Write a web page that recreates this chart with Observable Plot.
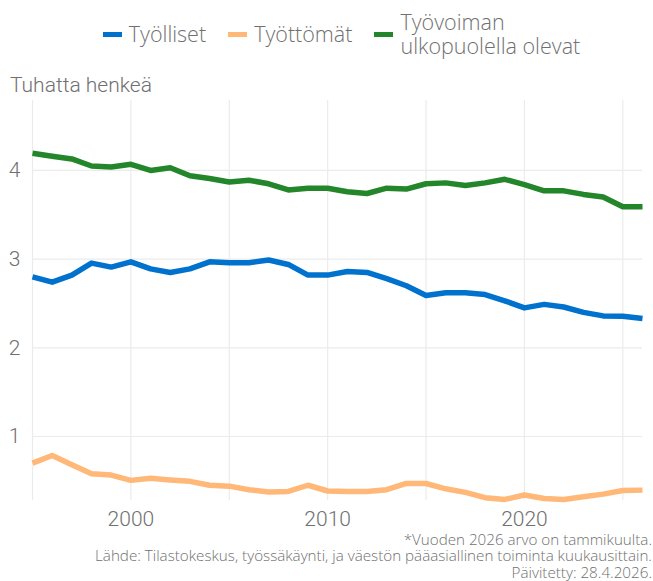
<!DOCTYPE html>
<html>
<head>
<meta charset="utf-8">
<script src="https://cdn.jsdelivr.net/npm/d3@7"></script>
<script src="https://cdn.jsdelivr.net/npm/@observablehq/plot@0.6"></script>
<style>
  html, body { margin: 0; padding: 0; background: #fff; }
  #wrap { position: relative; width: 653px; height: 581px; overflow: hidden; }
  #legend { position: absolute; left: 0; top: 0; width: 653px; height: 68px; display: flex; justify-content: center; align-items: center; font-family: "Open Sans", sans-serif; font-weight: 300; font-size: 21.5px; color: #707070; padding-left: 52px; box-sizing: border-box; }
  .item { display: flex; align-items: center; margin-right: 22px; }
  .sw { width: 19px; height: 5px; margin-right: 7px; }
  .lab { line-height: 24px; }
  #ytitle { position: absolute; left: 10px; top: 73px; font-family: Roboto, sans-serif; font-weight: 300; font-size: 21px; color: #707070; }
  #chart { position: absolute; left: 0; top: 95px; }
  #caption { position: absolute; right: 1px; top: 531px; text-align: right; font-family: "Open Sans", sans-serif; font-weight: 300; font-size: 15.2px; line-height: 16.3px; color: #707070; }
</style>
</head>
<body>
<div id="wrap">
  <div id="legend"></div>
  <div id="ytitle"></div>
  <div id="chart"></div>
  <div id="caption"></div>
</div>
<script>
const years = d3.range(1995, 2027);
const seriesNames = ["Työlliset", "Työttömät", "Työvoiman ulkopuolella olevat"];
const legendLabels = ["Työlliset", "Työttömät", "Työvoiman<br>ulkopuolella olevat"];
const seriesColors = ["#0072CE", "#FFB878", "#23862A"];

const tyolliset = [2.80, 2.74, 2.82, 2.955, 2.91, 2.97, 2.89, 2.85, 2.89, 2.97, 2.96, 2.96, 2.99, 2.94, 2.82, 2.82,
                   2.86, 2.85, 2.78, 2.70, 2.59, 2.62, 2.62, 2.60, 2.53, 2.45, 2.49, 2.46, 2.40, 2.36, 2.355, 2.33];
const tyottomat = [0.70, 0.785, 0.68, 0.58, 0.565, 0.505, 0.53, 0.51, 0.494, 0.45, 0.44, 0.40, 0.375, 0.38, 0.45, 0.385,
                   0.38, 0.38, 0.40, 0.47, 0.47, 0.41, 0.37, 0.31, 0.29, 0.34, 0.30, 0.29, 0.32, 0.35, 0.39, 0.395];
const ulkopuolella = [4.195, 4.16, 4.13, 4.05, 4.04, 4.07, 4.00, 4.03, 3.94, 3.91, 3.87, 3.89, 3.85, 3.78, 3.80, 3.80,
                      3.76, 3.74, 3.80, 3.79, 3.85, 3.86, 3.83, 3.86, 3.90, 3.84, 3.77, 3.77, 3.73, 3.70, 3.59, 3.59];

const yTicks = [1, 2, 3, 4];
const xTicks = [2000, 2010, 2020];
const xGrid = [1995, 2000, 2005, 2010, 2015, 2020, 2025];
const yTitle = "Tuhatta henkeä";
const captionLines = [
  "*Vuoden 2026 arvo on tammikuulta.",
  "Lähde: Tilastokeskus, työssäkäynti, ja väestön pääasiallinen toiminta kuukausittain.",
  "Päivitetty: 28.4.2026."
];

const values = [tyolliset, tyottomat, ulkopuolella];
const data = [];
seriesNames.forEach((s, i) => years.forEach((y, j) => data.push({ year: y, value: values[i][j], series: s })));

const leg = document.getElementById("legend");
seriesNames.forEach((s, i) => {
  const it = document.createElement("div");
  it.className = "item";
  it.innerHTML = `<div class="sw" style="background:${seriesColors[i]}"></div><div class="lab">${legendLabels[i]}</div>`;
  leg.appendChild(it);
});
document.getElementById("ytitle").textContent = yTitle;
document.getElementById("caption").innerHTML = captionLines.join("<br>");

const chart = Plot.plot({
  width: 653,
  height: 445,
  marginTop: 5,
  marginBottom: 40,
  marginLeft: 32,
  marginRight: 11,
  style: { fontFamily: "Roboto, sans-serif", fontWeight: 300, fontSize: "21px", color: "#707070", background: "transparent" },
  x: { domain: [1995, 2026], label: null },
  y: { domain: [0.278, 4.789], label: null },
  color: { domain: seriesNames, range: seriesColors },
  marks: [
    Plot.gridX(xGrid, { stroke: "#ebebeb", strokeOpacity: 1, strokeWidth: 1.2 }),
    Plot.gridY(yTicks, { stroke: "#ebebeb", strokeOpacity: 1, strokeWidth: 1.2 }),
    Plot.axisX(xTicks, { tickSize: 0, tickPadding: 11, tickFormat: d => String(d), fontSize: 21, fill: "#707070" }),
    Plot.axisY(yTicks, { tickSize: 0, tickPadding: 12, tickFormat: d => String(d), fontSize: 21, fill: "#707070" }),
    Plot.line(data, { x: "year", y: "value", z: "series", stroke: "series", strokeWidth: 5.5, strokeLinecap: "butt", strokeLinejoin: "round" })
  ]
});
document.getElementById("chart").appendChild(chart);
</script>
</body>
</html>
